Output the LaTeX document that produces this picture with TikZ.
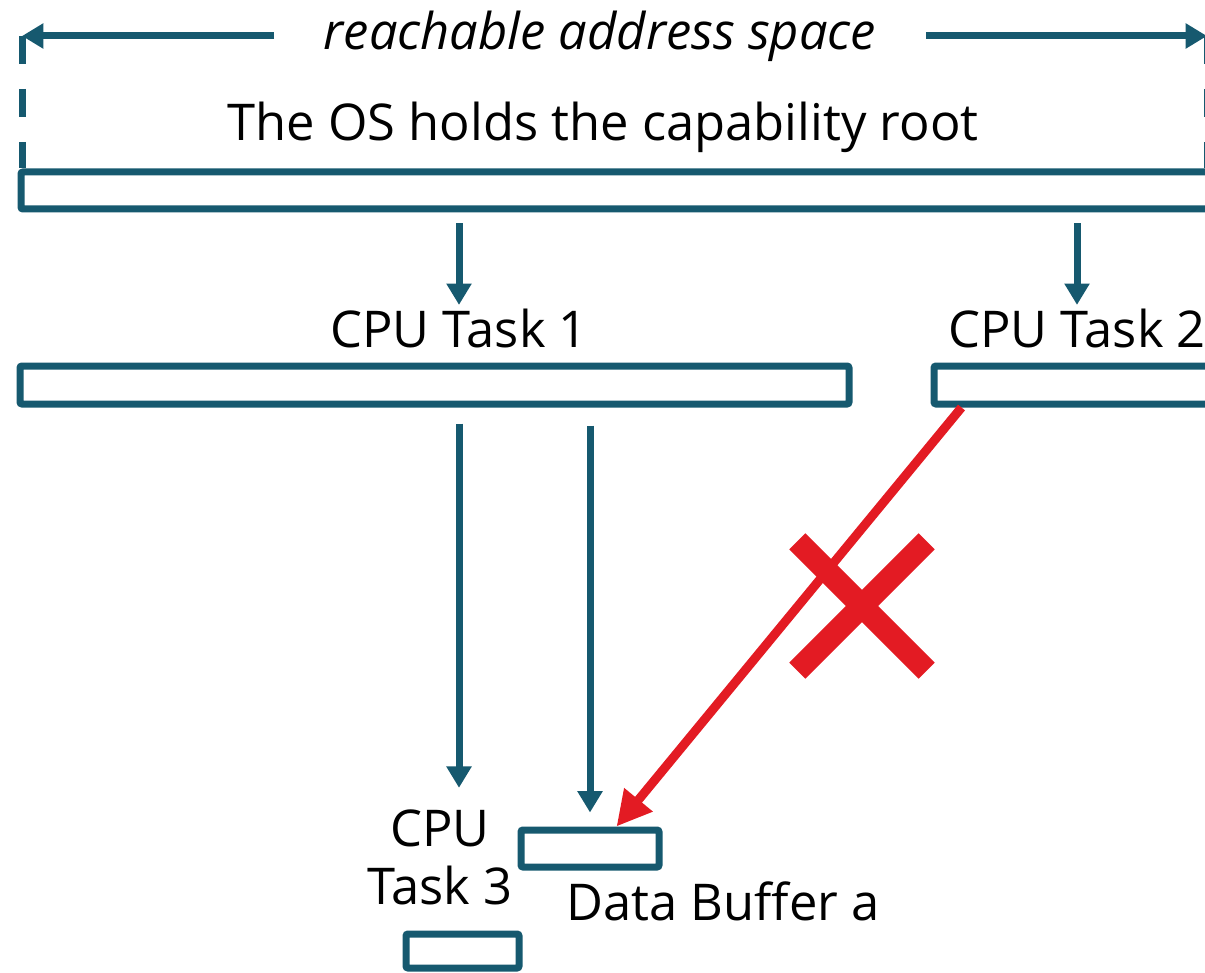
\documentclass[tikz,border=0pt]{standalone}
\usepackage{fontspec}
\setmainfont{Open Sans}
\usetikzlibrary{arrows.meta,fit,shapes.misc}
\definecolor{tealc}{HTML}{16596F}
\definecolor{redc}{HTML}{E31B23}
\tikzset{
  box/.style={draw=tealc, line width=5.25pt, rounded corners=1.5pt, inner sep=0pt},
  arr/.style={draw=tealc, line width=5.25pt, -{Triangle[length=16pt,width=18pt]}},
  dashline/.style={draw=tealc, line width=5.25pt, dash pattern=on 21pt off 18.75pt},
  redarr/.style={draw=redc, line width=6.75pt, -{Triangle[length=26pt,width=26pt]}},
  lbl/.style={font=\fontsize{38}{43.5}\selectfont, inner sep=0pt, text=black},
}
\begin{document}
\begin{tikzpicture}[x=0.75pt,y=-0.75pt]
\useasboundingbox (0,0) rectangle (1205,973);
\clip (0,0) rectangle (1205,973);
% top span
\node[lbl, font=\fontsize{38}{43.5}\selectfont\itshape, inner xsep=37pt] (title) at (600,36) {reachable address space};
\coordinate (la) at (22,36);
\coordinate (ra) at (1207,36);
% boxes
\node[box, fit={(21,172)(1215,209)}] (os) {};
\node[box, fit={(20,366)(849,404)}] (t1box) {};
\node[box, fit={(934,366)(1215,404)}] (t2box) {};
\node[box, fit={(521,830)(659,867)}] (buf) {};
\node[box, fit={(406,934)(519,968)}] (t3box) {};
% labels
\node[lbl] (oslab) at (603,127) {The OS holds the capability root};
\node[lbl, anchor=base] (t1lab) at (459,347) {CPU Task 1};
\node[lbl, anchor=base] (t2lab) at (1077,347) {CPU Task 2};
\node[lbl, align=center] (t3lab) at (440,857) {CPU\\Task 3};
\node[lbl, anchor=base] (buflab) at (723,920) {Data Buffer a};
% span arrows and dashed limits
\draw[arr] (title.west) -- (la);
\draw[arr] (title.east) -- (ra);
\draw[dashline] (la) -- (la |- os.north);
\draw[dashline] (ra) -- (ra |- os.north);
% connectors
\draw[arr, shorten <=8.25pt, shorten >=2.5pt] (os.south -| t1lab) -- (t1lab.north);
\draw[arr, shorten <=8.25pt, shorten >=2.5pt] (os.south -| t2lab) -- (t2lab.north);
\draw[arr, shorten <=12pt, shorten >=16pt] (t1box.south -| t1lab) -- (t3lab.north -| t1lab);
\draw[arr, shorten <=13.5pt, shorten >=10.5pt] (t1box.south -| buf) -- (buf.north);
\draw[redarr] ([xshift=23.25pt]t2box.south west) -- ([xshift=74.25pt]buf.north west);
% denial mark
\node[cross out, draw=redc, line width=17pt, minimum width=80pt, minimum height=80pt, inner sep=0pt] (deny) at (862,606) {};
\end{tikzpicture}
\end{document}
